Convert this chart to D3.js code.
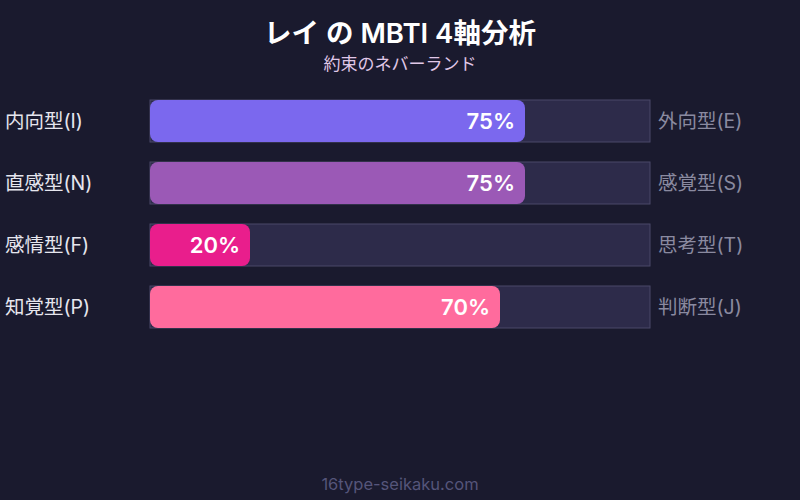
<!DOCTYPE html>
<html>
<head>
<meta charset="utf-8">
<script src="https://cdn.jsdelivr.net/npm/d3@7"></script>
<style>
  body { margin: 0; background: #1a1a2e; }
  svg { display: block; font-family: Inter, "Noto Sans CJK JP", sans-serif; }
</style>
</head>
<body>
<div class="chart"></div>
<script>
var svgWidth = 800;
var svgHeight = 500;

// data
var leftLabels = ["内向型(I)", "直感型(N)", "感情型(F)", "知覚型(P)"];
var rightLabels = ["外向型(E)", "感覚型(S)", "思考型(T)", "判断型(J)"];
var percents = [75, 75, 20, 70];
var barColors = ["#7b68ee", "#9b59b6", "#e91e8c", "#ff6b9d"];

var svg = d3.select(".chart")
  .append("svg")
  .attr("width", svgWidth)
  .attr("height", svgHeight);

svg.append("rect")
  .attr("width", svgWidth)
  .attr("height", svgHeight)
  .attr("fill", "#1a1a2e");

// title
svg.append("text")
  .attr("x", 400)
  .attr("y", 43)
  .attr("text-anchor", "middle")
  .attr("fill", "#ffffff")
  .attr("font-size", 27.5)
  .attr("font-weight", 600)
  .text("レイ の MBTI 4軸分析");

svg.append("text")
  .attr("x", 400)
  .attr("y", 70)
  .attr("text-anchor", "middle")
  .attr("fill", "#e0c8e8")
  .attr("font-size", 17)
  .text("約束のネバーランド");

var xScale = d3.scaleLinear()
  .domain([0, 100])
  .range([150, 650]);

var yScale = d3.scaleBand()
  .domain(d3.range(leftLabels.length))
  .range([100, 328])
  .paddingInner(20 / 62)
  .paddingOuter(0);

var rows = svg.selectAll(".row")
  .data(percents)
  .enter()
  .append("g")
  .attr("class", "row");

// track
rows.append("rect")
  .attr("x", xScale(0))
  .attr("y", (d, i) => yScale(i))
  .attr("width", xScale(100) - xScale(0))
  .attr("height", yScale.bandwidth())
  .attr("fill", "#2d2b4a")
  .attr("stroke", "#4a4868")
  .attr("stroke-width", 1);

// filled bar
rows.append("rect")
  .attr("x", xScale(0))
  .attr("y", (d, i) => yScale(i))
  .attr("width", d => xScale(d) - xScale(0))
  .attr("height", yScale.bandwidth())
  .attr("rx", 8)
  .attr("fill", (d, i) => barColors[i]);

// value label
rows.append("text")
  .attr("x", d => xScale(d) - 10)
  .attr("y", (d, i) => yScale(i) + yScale.bandwidth() / 2)
  .attr("dy", "0.35em")
  .attr("text-anchor", "end")
  .attr("fill", "#ffffff")
  .attr("font-size", 22)
  .attr("font-weight", 600)
  .text(d => d + "%");

rows.append("text")
  .attr("x", 5)
  .attr("y", (d, i) => yScale(i) + yScale.bandwidth() / 2)
  .attr("dy", "0.35em")
  .attr("fill", "#e6e6ee")
  .attr("font-size", 19.5)
  .text((d, i) => leftLabels[i]);

rows.append("text")
  .attr("x", 658)
  .attr("y", (d, i) => yScale(i) + yScale.bandwidth() / 2)
  .attr("dy", "0.35em")
  .attr("fill", "#8a8aa0")
  .attr("font-size", 19.5)
  .text((d, i) => rightLabels[i]);

// footer
svg.append("text")
  .attr("x", 400)
  .attr("y", 490)
  .attr("text-anchor", "middle")
  .attr("fill", "#55557a")
  .attr("font-size", 16.5)
  .text("16type-seikaku.com");
</script>
</body>
</html>
